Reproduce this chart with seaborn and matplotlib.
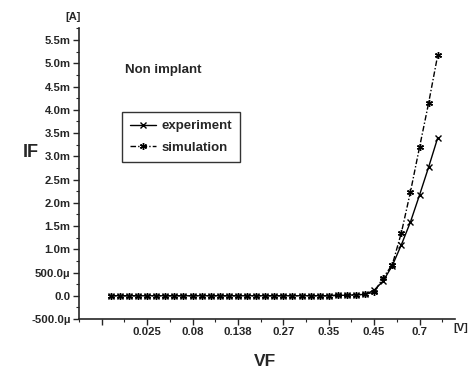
import matplotlib
matplotlib.use('Agg')
import matplotlib.pyplot as plt
import seaborn as sns
import pandas as pd

# measurement points (equally spaced on the plot's x axis)
step = list(range(37))

# IF in mA
experiment = [0.0, 0.0, 0.0, 0.0, 0.0, 0.0, 0.0, 0.0, 0.0, 0.0,
              0.0, 0.0, 0.0, 0.0, 0.0, 0.0, 0.0, 0.0, 0.0, 0.0,
              0.0, 0.0, 0.0, 0.0, 0.0, 0.01, 0.01, 0.02, 0.03,
              0.12, 0.32, 0.65, 1.10, 1.59, 2.17, 2.77, 3.40]
simulation = [0.0, 0.0, 0.0, 0.0, 0.0, 0.0, 0.0, 0.0, 0.0, 0.0,
              0.0, 0.0, 0.0, 0.0, 0.0, 0.0, 0.0, 0.0, 0.0, 0.0,
              0.0, 0.0, 0.0, 0.0, 0.0, 0.01, 0.01, 0.02, 0.03,
              0.08, 0.39, 0.67, 1.36, 2.24, 3.20, 4.15, 5.18]

# axis labelling
x_tick_pos = [-1, 4, 9, 14, 19, 24, 29, 34]
x_tick_labels = ['', '0.025', '0.08', '0.138', '0.27', '0.35', '0.45', '0.7']
y_tick_pos = [-0.5, 0.0, 0.5, 1.0, 1.5, 2.0, 2.5, 3.0, 3.5, 4.0, 4.5, 5.0, 5.5]
y_tick_labels = ['-500.0\u00b5', '0.0', '500.0\u00b5', '1.0m', '1.5m', '2.0m', '2.5m',
                 '3.0m', '3.5m', '4.0m', '4.5m', '5.0m', '5.5m']

df = pd.DataFrame({
    'VF': step + step,
    'IF': experiment + simulation,
    'series': ['experiment'] * len(step) + ['simulation'] * len(step),
})

sns.set_style('ticks')
plt.rcParams['font.family'] = ['Liberation Sans', 'DejaVu Sans']
plt.rcParams['font.weight'] = 'bold'

fig = plt.figure(figsize=(4.69, 3.73), dpi=100)
ax = fig.add_axes([79 / 469, 1 - 319 / 373, (455 - 79) / 469, (319 - 28) / 373])

sns.lineplot(data=df, x='VF', y='IF', hue='series', style='series', ax=ax,
             palette={'experiment': 'black', 'simulation': 'black'},
             markers={'experiment': 'x', 'simulation': (6, 2, 0)},
             dashes={'experiment': '', 'simulation': (4, 1.5, 1, 1.5)},
             markersize=5, markeredgewidth=1.0, markeredgecolor='black',
             linewidth=1.0)

ax.set_xlim(-3.4, 37.9)
ax.set_ylim(-0.5, 5.76)
ax.set_xticks(x_tick_pos)
ax.set_xticklabels(x_tick_labels)
ax.set_xticks([p + 2.5 for p in x_tick_pos] + [-3.5], minor=True)
ax.set_yticks(y_tick_pos)
ax.set_yticklabels(y_tick_labels)
ax.set_yticks([v + 0.25 for v in y_tick_pos], minor=True)
ax.tick_params(axis='both', which='major', direction='out', length=4, width=1,
               labelsize=8.2, pad=2)
ax.tick_params(axis='both', which='minor', direction='out', length=2, width=0.8)
for lbl in ax.get_xticklabels() + ax.get_yticklabels():
    lbl.set_fontweight('bold')
ax.set_xlabel('')
ax.set_ylabel('')
sns.despine(ax=ax)
for s in ['left', 'bottom']:
    ax.spines[s].set_linewidth(1.2)

leg = ax.legend(loc='upper left', bbox_to_anchor=(0.114, 0.711), borderaxespad=0,
                frameon=True, fancybox=False, edgecolor='black', fontsize=9.5,
                handlelength=2.0, handletextpad=0.4, borderpad=0.6, labelspacing=0.7)
leg.get_frame().set_linewidth(1.0)
for t in leg.get_texts():
    t.set_fontweight('bold')

ax.text(0.122, 0.856, 'Non implant', transform=ax.transAxes, fontsize=9.5,
        fontweight='bold', va='center', ha='left')
ax.text(-0.016, 1.038, '[A]', transform=ax.transAxes, fontsize=8,
        fontweight='bold', va='center', ha='center')
fig.text(461 / 469, 1 - 328 / 373, '[V]', fontsize=8, fontweight='bold',
         ha='center', va='center')
fig.text(31 / 469, 1 - 152 / 373, 'IF', fontsize=13, fontweight='bold',
         ha='center', va='center')
fig.text(265 / 469, 1 - 362 / 373, 'VF', fontsize=12.5, fontweight='bold',
         ha='center', va='center')

plt.savefig('out.png', dpi=100)
